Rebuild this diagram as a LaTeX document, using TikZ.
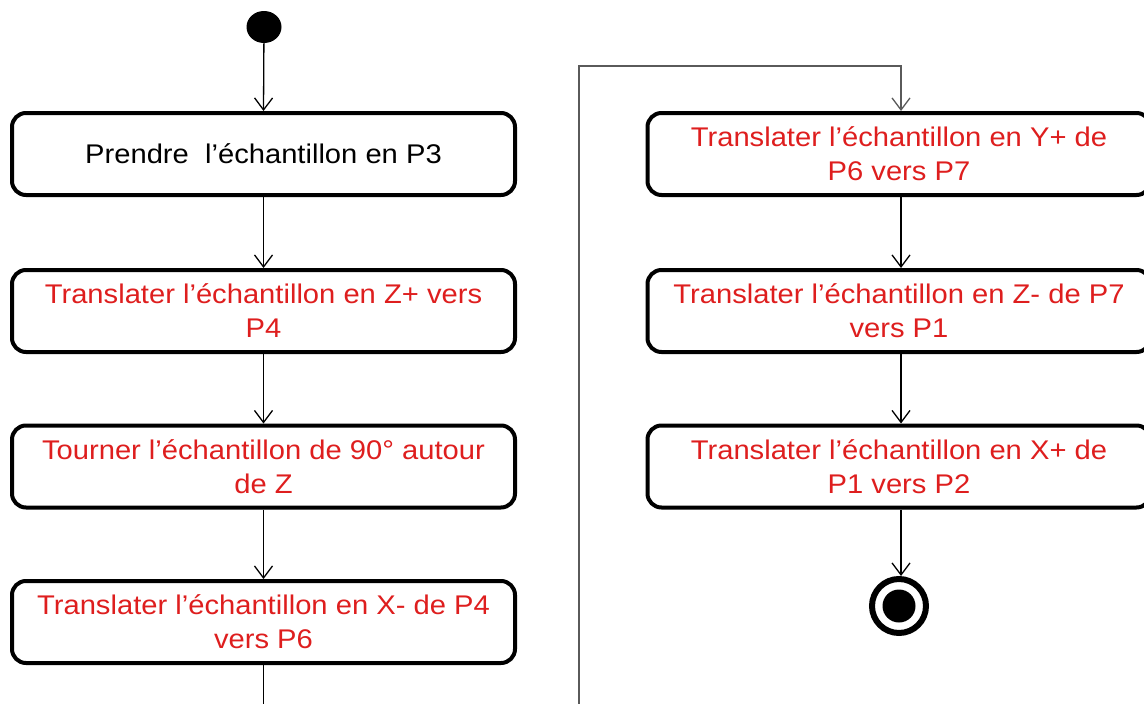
\documentclass[tikz,border=0pt]{standalone}
\usepackage{fontspec}
\setmainfont{Liberation Sans}[FakeStretch=1.08]
\usetikzlibrary{arrows.meta,shapes.geometric}
\definecolor{txtred}{RGB}{222,30,30}
\definecolor{lgray}{RGB}{90,90,90}
\tikzset{
  act/.style={draw=black, line width=4pt, rounded corners=14pt, minimum width=503pt, minimum height=82pt, align=center, font=\fontsize{27}{34}\selectfont, text=txtred, inner sep=0pt},
  flow/.style={draw=black, line width=1.3pt, -{Straight Barb[length=12pt,width=18pt,line width=1.3pt]}},
  plain/.style={draw=black, line width=1.3pt},
  longline/.style={draw=lgray, line width=1.8pt, -{Straight Barb[length=12pt,width=18pt,line width=1.3pt]}}
}
\begin{document}
\begin{tikzpicture}[x=1pt,y=-1pt]
\useasboundingbox (0,0) rectangle (1144,704);
\clip (0,0) rectangle (1144,704);
% start
\node[draw=none, fill=black, ellipse, minimum width=35pt, minimum height=32pt, inner sep=0pt] (start) at (264,27) {};
% left column
\node[act, text=black] (a1) at (263.5,154) {Prendre\ \ l’échantillon en P3};
\node[act] (a2) at (263.5,311) {Translater l’échantillon en Z+ vers\\P4};
\node[act] (a3) at (263.5,466.5) {Tourner l’échantillon de 90° autour\\de Z};
\node[act] (a4) at (263.5,622) {Translater l’échantillon en X- de P4\\vers P6};
% right column
\node[act] (b1) at (899,154) {Translater l’échantillon en Y+ de\\P6 vers P7};
\node[act] (b2) at (899,311) {Translater l’échantillon en Z- de P7\\vers P1};
\node[act] (b3) at (899,466.5) {Translater l’échantillon en X+ de\\P1 vers P2};
% end
\node[draw=black, line width=6pt, circle, minimum size=54pt, inner sep=0pt] (end) at (899,606) {};
\node[fill=black, circle, minimum size=33pt, inner sep=0pt] (endin) at (end) {};
% bottom / top coordinates
\coordinate (lb) at (263.5,710);
\coordinate (rb) at (579,710);
\coordinate (rt) at (579,66);
\coordinate (rt2) at (901,66);
% connectors
\draw[flow] (start) -- (a1.north);
\draw[flow] (a1) -- (a2);
\draw[flow] (a2) -- (a3);
\draw[flow] (a3) -- (a4);
\draw[plain] (a4) -- (lb);
\draw[longline] (rb) -- (rt) -- (rt2) -- (rt2 |- b1.north);
\draw[flow] (b1.south -| rt2) -- (b2.north -| rt2);
\draw[flow] (b2.south -| rt2) -- (b3.north -| rt2);
\draw[flow] (b3.south -| rt2) -- (end.north -| rt2);
\end{tikzpicture}
\end{document}
